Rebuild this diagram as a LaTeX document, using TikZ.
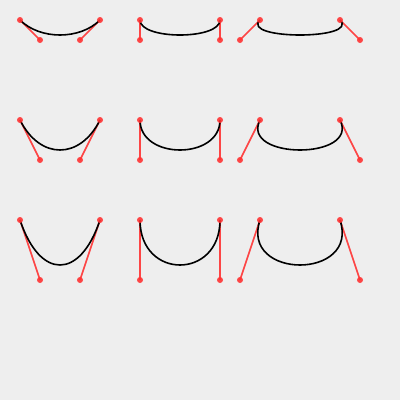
\documentclass[tikz,border=0pt]{standalone}
\definecolor{bg}{HTML}{EEEEEE}
\definecolor{ctrl}{HTML}{FF3333}
\tikzset{
  handle/.style={draw=ctrl, line width=1.6pt, opacity=0.9},
  curve/.style={draw=black, line width=1.6pt},
  pt/.style={circle, fill=ctrl, inner sep=0pt, minimum size=6pt, opacity=0.9}
}
\begin{document}
\begin{tikzpicture}[x=1pt,y=-1pt]
\fill[bg] (0,0) rectangle (400,400);
\useasboundingbox (0,0) rectangle (400,400);
\foreach \r/\ey/\cy in {1/20/40, 2/120/160, 3/220/280}{
  \foreach \c/\ax/\bx/\cax/\cbx in {1/20/100/40/80, 2/140/220/140/220, 3/260/340/240/360}{
    \coordinate (a\r\c) at (\ax,\ey);
    \coordinate (b\r\c) at (\bx,\ey);
    \coordinate (p\r\c) at (\cax,\cy);
    \coordinate (q\r\c) at (\cbx,\cy);
    \draw[handle] (a\r\c) -- (p\r\c);
    \draw[handle] (b\r\c) -- (q\r\c);
    \draw[curve] (a\r\c) .. controls (p\r\c) and (q\r\c) .. (b\r\c);
    \node[pt] (na\r\c) at (a\r\c) {};
    \node[pt] (nb\r\c) at (b\r\c) {};
    \node[pt] (np\r\c) at (p\r\c) {};
    \node[pt] (nq\r\c) at (q\r\c) {};
  }
}
\end{tikzpicture}
\end{document}
